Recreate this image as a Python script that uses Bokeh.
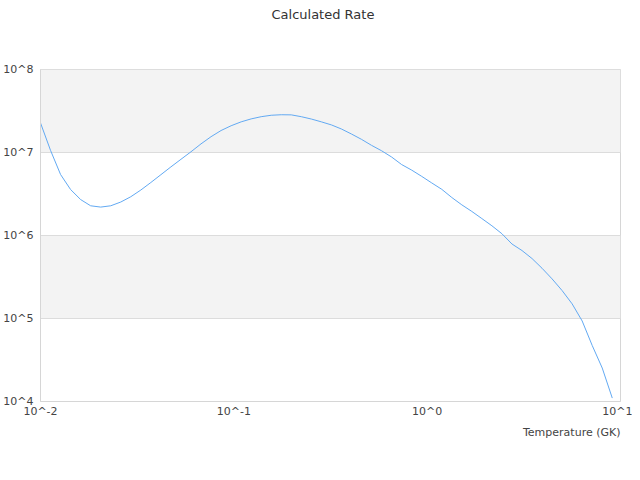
from bokeh.plotting import figure
from bokeh.models import FixedTicker, CustomJSTickFormatter, Title, Range1d
from bokeh.embed import file_html
from bokeh.resources import INLINE

temperature_gk = [
    0.0100, 0.01127, 0.01270, 0.01431, 0.01613, 0.01817, 0.02048, 0.02308,
    0.02601, 0.02931, 0.03303, 0.03722, 0.04194, 0.04727, 0.05326, 0.06002,
    0.06764, 0.07622, 0.08589, 0.09679, 0.1091, 0.1229, 0.1385, 0.1561,
    0.1759, 0.1982, 0.2234, 0.2517, 0.2837, 0.3197, 0.3602, 0.4059,
    0.4574, 0.5155, 0.5809, 0.6546, 0.7377, 0.8313, 0.9367, 1.056,
    1.190, 1.341, 1.511, 1.702, 1.918, 2.162, 2.436, 2.745,
    3.094, 3.486, 3.929, 4.427, 4.989, 5.622, 6.336, 7.140,
    8.046, 9.067,
]
rate = [
    2.27e7, 1.06e7, 5.43e6, 3.58e6, 2.71e6, 2.28e6, 2.20e6, 2.28e6,
    2.53e6, 2.93e6, 3.53e6, 4.35e6, 5.40e6, 6.71e6, 8.28e6, 1.02e7,
    1.27e7, 1.55e7, 1.84e7, 2.10e7, 2.34e7, 2.54e7, 2.70e7, 2.81e7,
    2.85e7, 2.84e7, 2.70e7, 2.53e7, 2.34e7, 2.15e7, 1.92e7, 1.67e7,
    1.44e7, 1.22e7, 1.05e7, 8.83e6, 7.16e6, 6.14e6, 5.16e6, 4.30e6,
    3.60e6, 2.87e6, 2.34e6, 1.95e6, 1.60e6, 1.31e6, 1.05e6, 7.90e5,
    6.59e5, 5.28e5, 4.03e5, 3.00e5, 2.17e5, 1.50e5, 9.33e4, 4.73e4,
    2.53e4, 1.10e4,
]
x_ticks = [0.01, 0.1, 1, 10]
y_ticks = [1e4, 1e5, 1e6, 1e7, 1e8]
title_text = "Calculated Rate"
x_label_text = "Temperature (GK)"

FONT = "DejaVu Sans"
TXT = "#444444"
GRIDC = "#dcdcdc"

p = figure(width=632, height=472, output_backend="svg", toolbar_location=None,
           x_axis_type="log", y_axis_type="log",
           x_range=Range1d(0.01, 10), y_range=Range1d(1e4, 1e8),
           min_border_left=40, min_border_right=12, min_border_top=69,
           min_border_bottom=71)
p.title = None
# empty spacer between the frame and the title
spacer = Title(text=" ", text_font=FONT, text_font_size="13px", standoff=31)
p.add_layout(spacer, "above")
t = Title(text=title_text, align="left",
          text_font=FONT, text_font_size="13px", text_font_style="normal",
          text_color="#333333", standoff=0, offset=231)
p.add_layout(t, "above")

p.background_fill_color = "white"
p.border_fill_color = "white"
p.outline_line_color = "#d6d6d6"

p.line(temperature_gk, rate, line_color="#62a9f2", line_width=1)

fmt = CustomJSTickFormatter(code="return '10^' + Math.round(Math.log10(tick));")

xa = p.xaxis[0]
xa.ticker = FixedTicker(ticks=x_ticks)
xa.formatter = fmt
xa.axis_line_color = "#d6d6d6"
xa.major_tick_line_color = None
xa.minor_tick_line_color = None
xa.major_tick_out = 0
xa.major_tick_in = 0
xa.minor_tick_out = 0
xa.major_label_text_font = FONT
xa.major_label_text_font_size = "11px"
xa.major_label_text_color = TXT
xa.major_label_standoff = 3

xlab = Title(text=x_label_text, align="right", text_font=FONT,
             text_font_size="11px", text_font_style="normal", text_color=TXT,
             standoff=6)
p.add_layout(xlab, "below")

ya = p.yaxis[0]
ya.ticker = FixedTicker(ticks=y_ticks)
ya.formatter = fmt
ya.axis_line_color = "#d6d6d6"
ya.major_tick_line_color = None
ya.minor_tick_line_color = None
ya.major_tick_out = 0
ya.major_tick_in = 0
ya.minor_tick_out = 0
ya.major_label_text_font = FONT
ya.major_label_text_font_size = "11px"
ya.major_label_text_color = TXT
ya.major_label_standoff = 7

p.xgrid.visible = False
p.ygrid.ticker = FixedTicker(ticks=y_ticks)
p.ygrid.grid_line_color = GRIDC
p.ygrid.band_fill_color = "#f3f3f3"
p.ygrid.band_fill_alpha = 1.0

open("out.html", "w").write(file_html(p, INLINE))
